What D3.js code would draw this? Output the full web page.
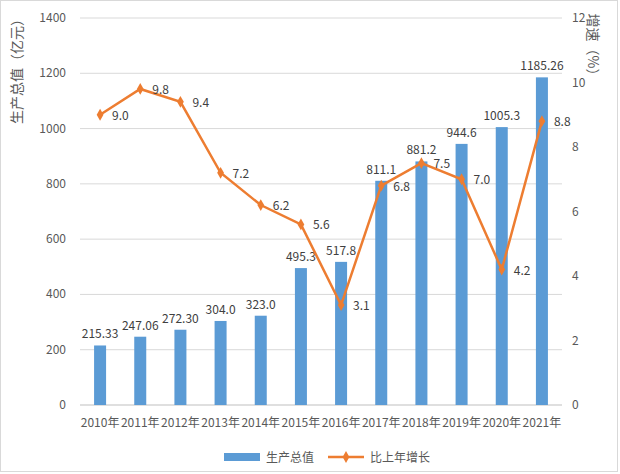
<!DOCTYPE html>
<html><head><meta charset="utf-8">
<script src="https://cdn.jsdelivr.net/npm/d3@7"></script>
<style>body{margin:0;background:#fff}text{font-family:"Noto Sans CJK SC","DejaVu Sans",sans-serif}</style>
</head><body>
<svg id="c" width="620" height="474"></svg>
<script>
const years = ['2010年','2011年','2012年','2013年','2014年','2015年','2016年','2017年','2018年','2019年','2020年','2021年'];
const output = [215.33,247.06,272.30,304.0,323.0,495.3,517.8,811.1,881.2,944.6,1005.3,1185.26];
const outputLabels = ['215.33','247.06','272.30','304.0','323.0','495.3','517.8','811.1','881.2','944.6','1005.3','1185.26'];
const growth = [9.0,9.8,9.4,7.2,6.2,5.6,3.1,6.8,7.5,7.0,4.2,8.8];
const leftTicks = [0,200,400,600,800,1000,1200,1400];
const rightTicks = [0,2,4,6,8,10,12];

const svg = d3.select('#c');
const m = {l:80, r:562, t:18, b:405};
svg.append('rect').attr('x',0.5).attr('y',0.5).attr('width',617).attr('height',471)
  .attr('fill','none').attr('stroke','#d9d9d9');

const x = d3.scaleBand().domain(years).range([m.l, m.r]);
const y = d3.scaleLinear().domain([0,1400]).range([m.b, m.t]);
const y2 = d3.scaleLinear().domain([0,12]).range([m.b, m.t]);

svg.append('g').selectAll('line').data(leftTicks).join('line')
  .attr('x1',m.l).attr('x2',m.r).attr('y1',d=>y(d)).attr('y2',d=>y(d))
  .attr('stroke',d=>d===0?'#bfbfbf':'#d9d9d9');

svg.append('g').selectAll('text').data(leftTicks).join('text')
  .attr('x',m.l-14).attr('y',d=>y(d)+4).attr('text-anchor','end')
  .attr('font-size',12).attr('fill','#595959').text(d=>d);
svg.append('g').selectAll('text').data(rightTicks).join('text')
  .attr('x',m.r+10).attr('y',d=>y2(d)+4).attr('text-anchor','start')
  .attr('font-size',12).attr('fill','#595959').text(d=>d);

svg.append('g').selectAll('text').data(years).join('text')
  .attr('x',d=>x(d)+x.bandwidth()/2).attr('y',m.b+22).attr('text-anchor','middle')
  .attr('font-size',12).attr('fill','#595959').text(d=>d);

svg.append('text').attr('transform','translate(22,68) rotate(-90)')
  .attr('text-anchor','middle').attr('font-size',14).attr('fill','#595959').text('生产总值（亿元）');
svg.append('text').attr('transform','translate(588,48) rotate(90)')
  .attr('text-anchor','middle').attr('font-size',14).attr('fill','#595959').text('增速（%）');

const bw = 12;
svg.append('g').selectAll('rect').data(output).join('rect')
  .attr('x',(d,i)=>x(years[i])+x.bandwidth()/2-bw/2).attr('width',bw)
  .attr('y',d=>y(d)).attr('height',d=>m.b-y(d)).attr('fill','#5B9BD5');
svg.append('g').selectAll('text').data(output).join('text')
  .attr('x',(d,i)=>x(years[i])+x.bandwidth()/2).attr('y',d=>y(d)-7)
  .attr('text-anchor','middle').attr('font-size',12).attr('fill','#404040')
  .text((d,i)=>outputLabels[i]);

const cx = i=>x(years[i])+x.bandwidth()/2;
svg.append('path').datum(growth)
  .attr('d',d3.line().x((d,i)=>cx(i)).y(d=>y2(d)))
  .attr('fill','none').attr('stroke','#ED7D31').attr('stroke-width',2.5);
svg.append('g').selectAll('path').data(growth).join('path')
  .attr('d',d3.symbol(d3.symbolDiamond,40))
  .attr('transform',(d,i)=>`translate(${cx(i)},${y2(d)})`).attr('fill','#ED7D31');
svg.append('g').selectAll('text').data(growth).join('text')
  .attr('x',(d,i)=>cx(i)+12).attr('y',d=>y2(d)+5)
  .attr('font-size',12).attr('fill','#404040').text(d=>d.toFixed(1));

const lg = svg.append('g').attr('transform','translate(224,457)');
lg.append('rect').attr('x',0).attr('y',-4).attr('width',36).attr('height',8).attr('fill','#5B9BD5');
lg.append('text').attr('x',42).attr('y',5).attr('font-size',12).attr('fill','#595959').text('生产总值');
lg.append('line').attr('x1',104).attr('x2',140).attr('y1',0).attr('y2',0).attr('stroke','#ED7D31').attr('stroke-width',2.5);
lg.append('path').attr('d',d3.symbol(d3.symbolDiamond,40)).attr('transform','translate(122,0)').attr('fill','#ED7D31');
lg.append('text').attr('x',146).attr('y',5).attr('font-size',12).attr('fill','#595959').text('比上年增长');
</script>
</body></html>
